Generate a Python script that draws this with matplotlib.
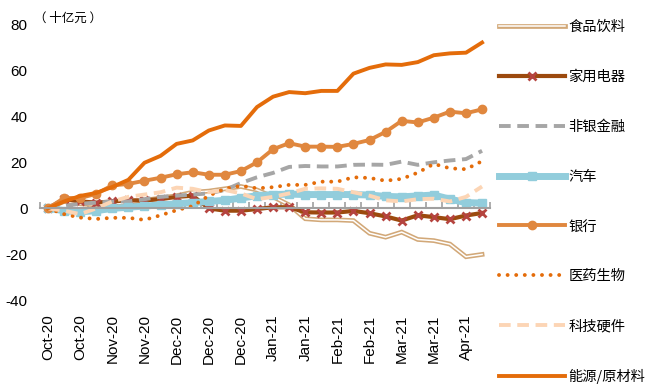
import matplotlib
matplotlib.use("Agg")
import matplotlib.pyplot as plt
import numpy as np

plt.rcParams['font.family'] = ['Liberation Sans', 'Noto Sans CJK SC']
plt.rcParams['axes.unicode_minus'] = False

# 周度数据，每两周标注一个日期
tick_labels = ["Oct-20", "Oct-20", "Nov-20", "Nov-20", "Dec-20", "Dec-20", "Dec-20",
               "Jan-21", "Jan-21", "Feb-21", "Feb-21", "Mar-21", "Mar-21", "Apr-21"]

food = [0, 3, 2, 1.5, 2, 2.5, 3.5, 4.5, 5.5, 7, 7.5, 8.5, 9.5, 8, 5, 1.5, -4.5, -5,
        -5, -5.3, -10.8, -12.5, -10.3, -13.5, -14, -15.5, -21, -20]
appliance = [0, 4, 3, 2.5, 3, 3.5, 3.5, 4, 5, 5.5, 0, -1, -1, -0.3, 0.5, 0.5, -1.7,
             -1.8, -1.8, -1.1, -2.1, -3.5, -5.3, -3, -3.8, -4.7, -3.1, -2]
nonbank = [0, 1, 2, 2.5, 3, 3, 4, 5, 5.5, 6, 6.5, 8, 11, 13.5, 15.4, 18, 18.4, 18.2,
           18.2, 18.9, 19, 18.9, 20.3, 18.9, 20, 20.8, 21.4, 25]
auto = [0, -1, -1.5, -1, 0, 0.5, 1, 1.5, 2, 2.5, 3, 3.5, 4.5, 5.5, 6, 6.2, 6, 6, 6, 6,
        5.8, 5.2, 5, 5.4, 5.8, 4, 2.5, 2.3]
bank = [0, 4.5, 4.5, 6.3, 10, 10.6, 12, 13.3, 14.8, 15.7, 14.6, 14.6, 16.2, 20, 25.7,
        28.3, 26.8, 26.8, 26.7, 28, 29.7, 33.2, 38, 37.3, 39.4, 42, 41.3, 43]
medicine = [0, -2.5, -4, -4.6, -4.1, -4.1, -5, -3, -0.8, 1, 5.5, 8.5, 9.8, 8.7, 9.2,
            10.2, 10.2, 11.6, 11.6, 13.5, 13.2, 12, 12.8, 15.5, 19.3, 17.4, 17, 20.5]
tech = [0, -1, -2.5, 0, 3, 5, 6, 7, 9, 8.5, 7, 8, 6.5, 4, 5, 6.5, 8.5, 8.7, 8.5, 7,
        5.5, 3.5, 3, 4, 4.2, 3, 5, 9.5]
energy = [0, 3, 5.4, 6.7, 9.3, 12.4, 19.8, 22.8, 28, 29.5, 33.8, 36, 35.8, 44, 48.5,
          50.5, 50, 51, 51, 58.5, 61, 62.5, 62.3, 63.5, 66.5, 67.3, 67.6, 72]

x = np.arange(len(energy))

fig = plt.figure(figsize=(6.5, 3.89), dpi=100)
ax = fig.add_axes([0.0615, 0.2275, 0.6925, 0.7105])

f1, = ax.plot(x, food, color='#D2A878', lw=3.4, solid_joinstyle='miter')
f2, = ax.plot(x, food, color='white', lw=1.1)
l_app, = ax.plot(x, appliance, color='#9C4A0E', lw=3, marker='x', ms=6,
                 mec='#B5443F', mew=2)
l_nb, = ax.plot(x, nonbank, color='#A6A6A6', lw=2.8, dashes=(3, 1.7))
l_auto, = ax.plot(x, auto, color='#92CDDC', lw=5, marker='s', ms=6)
l_bank, = ax.plot(x, bank, color='#E0873E', lw=2.8, marker='o', ms=6)
l_med, = ax.plot(x, medicine, color='#E46C0A', lw=2.8, linestyle=(0, (0.01, 2.2)),
                 dash_capstyle='round')
l_tech, = ax.plot(x, tech, color='#FCD5B5', lw=2.8, dashes=(3, 1.7))
l_en, = ax.plot(x, energy, color='#E46C0A', lw=2.8)

ax.set_xlim(-0.5, len(x) - 0.5)
ax.set_ylim(-40, 80)
ax.set_yticks([-40, -20, 0, 20, 40, 60, 80])
ax.tick_params(axis='y', length=0, pad=9, labelsize=11)

for s in ['top', 'right', 'left']:
    ax.spines[s].set_visible(False)
ax.spines['bottom'].set_position(('data', 0))
ax.spines['bottom'].set_color('#A0A0A0')
ax.spines['bottom'].set_linewidth(1.5)
ax.set_xticks(np.arange(-0.5, len(x), 1.0))
ax.set_xticklabels([])
ax.tick_params(axis='x', direction='in', length=4, width=1.2, color='#A0A0A0')
ax.set_zorder(1)

sec = ax.secondary_xaxis(0.0)
sec.set_xticks(x[::2])
sec.set_xticklabels(tick_labels, rotation=90, fontsize=11)
sec.tick_params(length=0, pad=10)
sec.spines['bottom'].set_visible(False)

fig.text(0.052, 0.953, "（ 十亿元 ）", fontsize=9, ha='left', va='center',
         family=['Noto Sans CJK SC'])

handles = [(f1, f2), l_app, l_nb, l_auto, l_bank, l_med, l_tech, l_en]
names = ["食品饮料", "家用电器", "非银金融", "汽车", "银行", "医药生物", "科技硬件", "能源/原材料"]
fig.legend(handles, names, loc='upper left', bbox_to_anchor=(0.757, 0.966),
           frameon=False, handlelength=4.6, handletextpad=0.25, numpoints=1,
           labelspacing=2.5, borderpad=0, prop={'family': ['Noto Sans CJK SC'], 'size': 10.3})

fig.savefig("out.png", dpi=100)
